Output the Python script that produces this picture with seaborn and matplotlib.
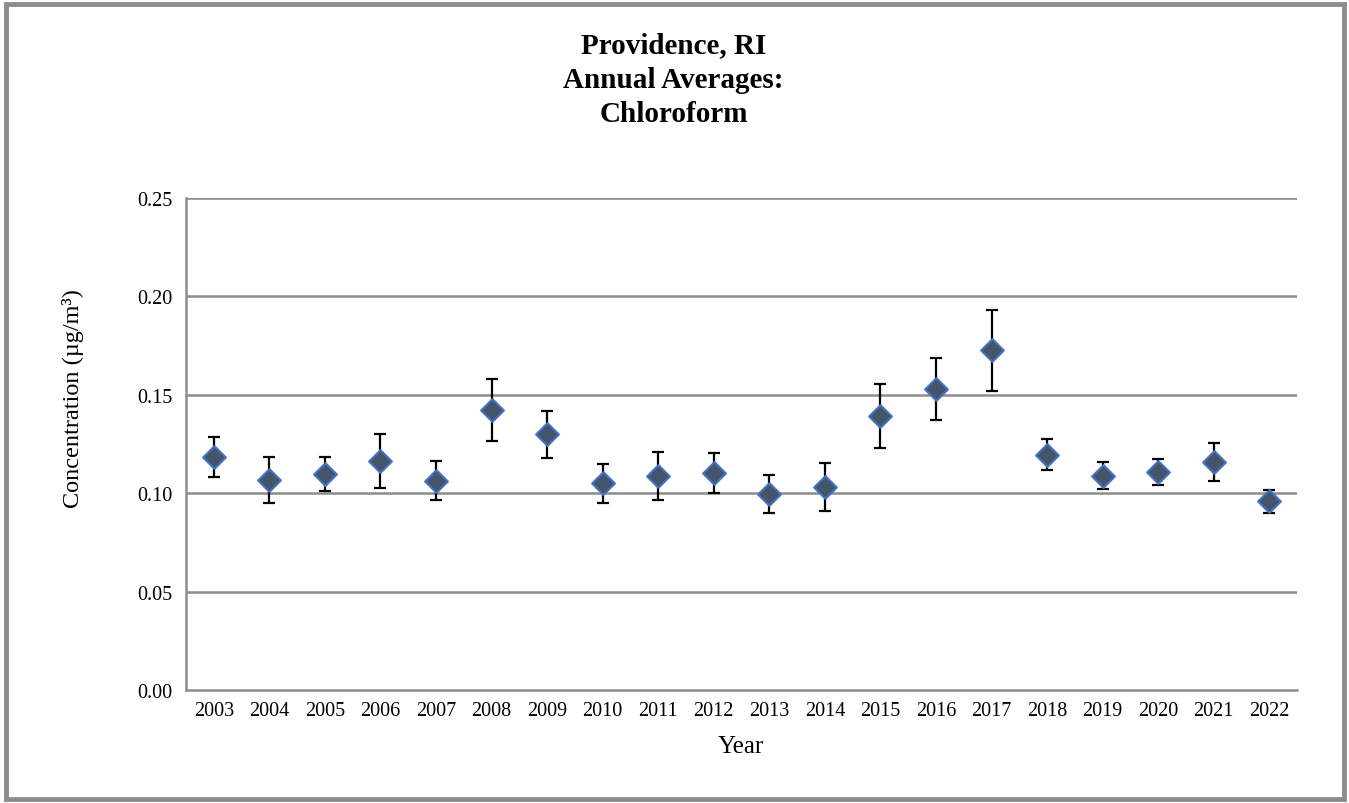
import numpy as np
import pandas as pd
import matplotlib
matplotlib.use('Agg')
import matplotlib.pyplot as plt
import seaborn as sns
from matplotlib.patches import Rectangle

# values
years = ['2003', '2004', '2005', '2006', '2007', '2008', '2009', '2010', '2011', '2012',
         '2013', '2014', '2015', '2016', '2017', '2018', '2019', '2020', '2021', '2022']
means = [0.1185, 0.1068, 0.1099, 0.1162, 0.1064, 0.1423, 0.1299, 0.1050, 0.1087, 0.1101,
         0.0998, 0.1031, 0.1394, 0.1528, 0.1726, 0.1196, 0.1089, 0.1109, 0.1157, 0.0959]
errs = [0.0103, 0.0116, 0.0086, 0.0137, 0.0100, 0.0159, 0.0121, 0.0098, 0.0121, 0.0102,
        0.0097, 0.0120, 0.0163, 0.0158, 0.0206, 0.0078, 0.0069, 0.0067, 0.0097, 0.0057]
y_ticks = [0.00, 0.05, 0.10, 0.15, 0.20, 0.25]

df = pd.DataFrame({'Year': years, 'Mean': means, 'Err': errs})

sns.set_style('white')
plt.rcParams['font.family'] = ['Liberation Serif', 'DejaVu Serif']
plt.rcParams['text.color'] = 'black'

fig = plt.figure(figsize=(13.49, 8.04), dpi=100)
ax = fig.add_axes([0.1379, 0.1405, 0.8236, 0.612])

grid_col = '#8c8c8c'
for t in y_ticks[1:]:
    ax.axhline(t, color=grid_col, lw=1.8, zorder=0)

ax.errorbar(df['Year'], df['Mean'], yerr=df['Err'], fmt='none', ecolor='black',
            elinewidth=1.6, capsize=4.5, capthick=1.6, zorder=2)
sns.scatterplot(data=df, x='Year', y='Mean', marker='D', s=135, color='#44546A',
                edgecolor='#4472C4', linewidth=1.5, zorder=3, ax=ax)

ax.set_xlim(-0.5, len(years) - 0.5)
ax.set_ylim(0, 0.25)
ax.set_yticks(y_ticks)
ax.set_yticklabels([f'{t:.2f}' for t in y_ticks])
ax.set_xticks(np.arange(len(years)))
ax.set_xticklabels(years)
ax.set_xticks(np.arange(-0.5, len(years), 1), minor=True)
ax.tick_params(axis='x', which='major', length=0, labelsize=14.5, pad=8, labelcolor='black')
ax.tick_params(axis='x', which='minor', length=6, width=1.8, color=grid_col, direction='out')
ax.tick_params(axis='y', which='major', length=6, width=1.8, color=grid_col, direction='out',
               labelsize=14.5, pad=4, labelcolor='black')

for side in ['top', 'right']:
    ax.spines[side].set_visible(False)
for side in ['left', 'bottom']:
    ax.spines[side].set_color(grid_col)
    ax.spines[side].set_linewidth(1.8)

ax.set_xlabel('')
ax.set_ylabel('')
fig.text(741 / 1349, 1 - 747 / 804, 'Year', ha='center', va='center', fontsize=18)
fig.text(73 / 1349, 1 - 399 / 804, 'Concentration (µg/m³)', ha='center', va='center',
         rotation=90, fontsize=17.5)

fig.text(0.4993, 1 - 80 / 804, 'Providence, RI\nAnnual Averages:\nChloroform', ha='center',
         va='center', fontsize=21, fontweight='bold', linespacing=1.35)

fig.patches.append(Rectangle((0.0045, 0.0055), 0.9915, 0.988, transform=fig.transFigure,
                             fill=False, edgecolor='#8c8c8c', linewidth=3.5))

fig.savefig('out.png', dpi=100)
